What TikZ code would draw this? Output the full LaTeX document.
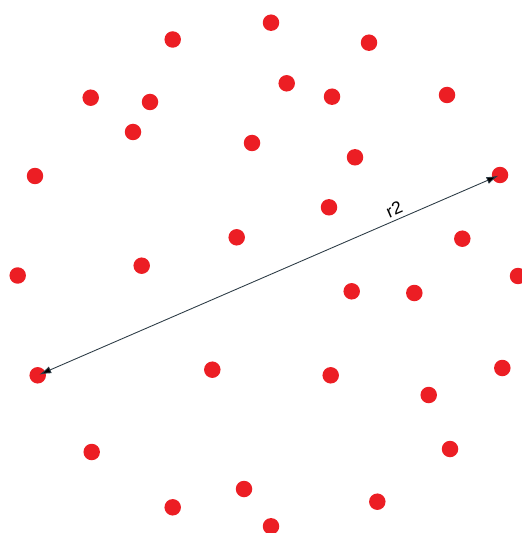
\documentclass[tikz,border=0pt]{standalone}
\usepackage{fontspec}
\setsansfont{Liberation Sans}
\usetikzlibrary{arrows.meta}
\definecolor{dotred}{RGB}{236,30,36}
\definecolor{linegray}{RGB}{45,60,70}

\begin{document}
\begin{tikzpicture}[
        x=0.02cm, y=-0.02cm,
        pt/.style={circle, fill=dotred, inner sep=0pt, minimum size=0.33cm},
        dist/.style={{Latex[length=6.8pt,width=4.2pt,fill=black]}-{Latex[length=6.8pt,width=4.2pt,fill=black]}, draw=linegray, line width=0.5pt},
        lbl/.style={font=\sffamily\fontsize{10}{11}\selectfont, text=black, inner sep=2.2pt},
    ]
    \useasboundingbox (0,0) rectangle (521,533);

    % === points ===
    \node[pt] (p1) at (172.7,39.5) {};
    \node[pt] (p2) at (271,22.7) {};
    \node[pt] (p3) at (369,42.7) {};
    \node[pt] (p4) at (90.7,97.7) {};
    \node[pt] (p5) at (150,102) {};
    \node[pt] (p6) at (286.7,83.3) {};
    \node[pt] (p7) at (332,96.7) {};
    \node[pt] (p8) at (447,95) {};
    \node[pt] (p9) at (133,132) {};
    \node[pt] (p10) at (252,143) {};
    \node[pt] (p11) at (355,157.3) {};
    \node[pt] (p12) at (35,176) {};
    \node[pt] (p13) at (500,175) {};
    \node[pt] (p14) at (329,207.3) {};
    \node[pt] (p15) at (236.7,237.3) {};
    \node[pt] (p16) at (462.3,238.7) {};
    \node[pt] (p17) at (17.7,275.5) {};
    \node[pt] (p18) at (141.7,265.7) {};
    \node[pt] (p19) at (518,276) {};
    \node[pt] (p20) at (351.7,291.3) {};
    \node[pt] (p21) at (414.3,293) {};
    \node[pt] (p22) at (37.7,375.3) {};
    \node[pt] (p23) at (212.3,369.7) {};
    \node[pt] (p24) at (330.7,375.3) {};
    \node[pt] (p25) at (502.3,368) {};
    \node[pt] (p26) at (428.7,395) {};
    \node[pt] (p27) at (91.7,452) {};
    \node[pt] (p28) at (450,449) {};
    \node[pt] (p29) at (244,489) {};
    \node[pt] (p30) at (172.7,507.3) {};
    \node[pt] (p31) at (377.3,501.7) {};
    \node[pt] (p32) at (271,526.3) {};

    % === distance r2 ===
    \draw[dist, shorten <=1pt, shorten >=1pt] (p22.center) -- node[lbl, pos=0.78, sloped, above] {r2} (p13.center);

\end{tikzpicture}
\end{document}
